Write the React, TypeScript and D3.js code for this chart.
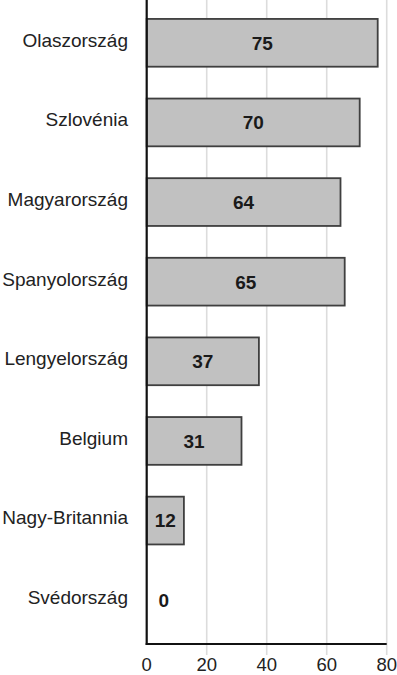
import { useEffect, useRef } from "react";
import * as d3 from "d3";

const countries = [
  "Olaszország",
  "Szlovénia",
  "Magyarország",
  "Spanyolország",
  "Lengyelország",
  "Belgium",
  "Nagy-Britannia",
  "Svédország",
];
// bar lengths as drawn in the picture
const barValues = [77, 71, 64.6, 66, 37.4, 31.6, 12.4, 0];
// numbers printed inside the bars
const valueLabels = ["75", "70", "64", "65", "37", "31", "12", "0"];
const xTicks = [0, 20, 40, 60, 80];

const App = () => {
  const ref = useRef<SVGSVGElement | null>(null);

  useEffect(() => {
    if (!ref.current) return;
    const svg = d3.select(ref.current);
    svg.selectAll("*").remove();

    const width = 397;
    const height = 675;
    const font = "'Liberation Sans', Arial, sans-serif";
    const axisY = 644;

    const x = d3.scaleLinear().domain([0, 80]).range([146.7, 386.7]);
    const y = d3
      .scaleBand<string>()
      .domain(countries)
      .range([3, 640])
      .paddingInner(0.4)
      .paddingOuter(0.2);

    svg.attr("width", width).attr("height", height);

    // gridlines (also run a bit below the axis as ticks)
    svg
      .append("g")
      .selectAll("line")
      .data(xTicks.slice(1))
      .enter()
      .append("line")
      .attr("x1", (d) => x(d))
      .attr("x2", (d) => x(d))
      .attr("y1", 0)
      .attr("y2", axisY + 11)
      .attr("stroke", "#dcdcdc")
      .attr("stroke-width", 1.6);

    const bars = svg
      .append("g")
      .selectAll("g")
      .data(countries)
      .enter()
      .append("g");

    bars
      .filter((_, i) => barValues[i] > 0)
      .append("rect")
      .attr("x", x(0))
      .attr("y", (d) => y(d)!)
      .attr("width", (_, i) => x(barValues[i]) - x(0))
      .attr("height", y.bandwidth())
      .attr("fill", "#c1c1c1")
      .attr("stroke", "#3f3f3f")
      .attr("stroke-width", 1.8);

    bars
      .append("text")
      .attr("x", (_, i) =>
        barValues[i] === 0 ? x(0) + 17 : (x(0) + x(barValues[i])) / 2
      )
      .attr("y", (d) => y(d)! + y.bandwidth() / 2)
      .attr("dy", "0.36em")
      .attr("text-anchor", "middle")
      .attr("font-family", font)
      .attr("font-weight", "bold")
      .attr("font-size", 19)
      .attr("fill", "#1a1a1a")
      .text((_, i) => valueLabels[i]);

    // category labels
    svg
      .append("g")
      .selectAll("text")
      .data(countries)
      .enter()
      .append("text")
      .attr("x", 128)
      .attr("y", (d) => y(d)! + y.bandwidth() / 2 - 3)
      .attr("dy", "0.36em")
      .attr("text-anchor", "end")
      .attr("font-family", font)
      .attr("font-size", 19)
      .attr("fill", "#222")
      .text((d) => d);

    // axes
    svg
      .append("line")
      .attr("x1", x(0))
      .attr("x2", x(0))
      .attr("y1", 0)
      .attr("y2", axisY + 1)
      .attr("stroke", "#111")
      .attr("stroke-width", 2.2);
    svg
      .append("line")
      .attr("x1", x(0) - 1)
      .attr("x2", x(80))
      .attr("y1", axisY)
      .attr("y2", axisY)
      .attr("stroke", "#111")
      .attr("stroke-width", 2.2);

    svg
      .append("g")
      .selectAll("text")
      .data(xTicks)
      .enter()
      .append("text")
      .attr("x", (d) => x(d))
      .attr("y", 671)
      .attr("text-anchor", "middle")
      .attr("font-family", font)
      .attr("font-size", 18.5)
      .attr("fill", "#222")
      .text((d) => d);
  }, []);

  return (
    <svg
      ref={ref}
      width={397}
      height={675}
      style={{ position: "absolute", left: 0, top: 0, background: "#fff" }}
    />
  );
};

export default App;
